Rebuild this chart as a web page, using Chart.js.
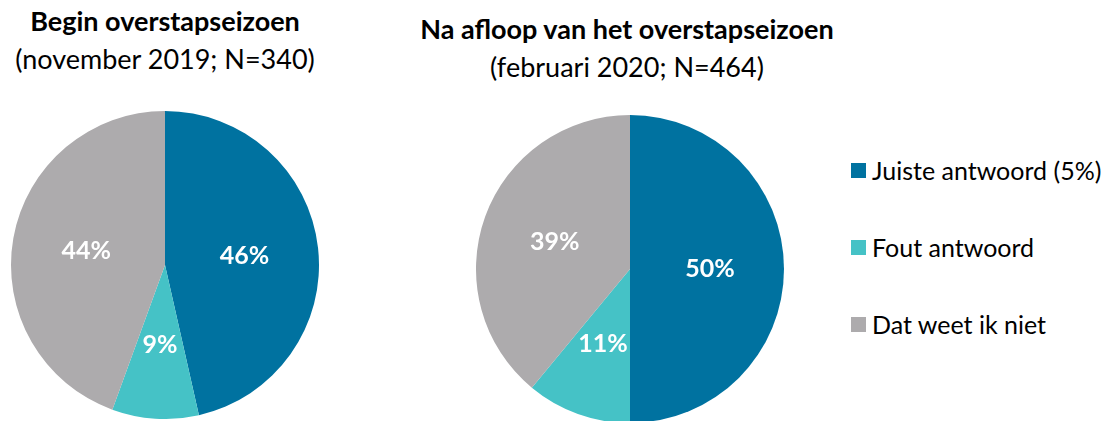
<!DOCTYPE html>
<html>
<head>
<meta charset="utf-8">
<script src="https://cdn.jsdelivr.net/npm/chart.js@4"></script>
<style>
  body { margin: 0; background: #fff; font-family: Lato, "Open Sans", sans-serif; color: #000; }
  #wrap { position: relative; width: 1108px; height: 421px; overflow: hidden; }
  .title { position: absolute; text-align: center; white-space: nowrap; font-size: 27px; line-height: 38px; }
  .title b { font-weight: 700; }
  .pie { position: absolute; }
  #legend { position: absolute; left: 851px; top: 150px; }
  .item { display: flex; align-items: center; height: 40px; margin-bottom: 37px; font-size: 25px; white-space: nowrap; }
  .box { width: 15px; height: 15px; margin-right: 6px; }
</style>
</head>
<body>
<div id="wrap">
  <div class="title" id="t1" style="left:-35px; top:2px; width:400px;"><b>Begin overstapseizoen</b><br>(november 2019; N=340)</div>
  <div class="title" id="t2" style="left:377px; top:10px; width:500px;"><b>Na afloop van het overstapseizoen</b><br>(februari 2020; N=464)</div>
  <div class="pie" style="left:11px; top:111px; width:308px; height:308px;"><canvas id="pie1"></canvas></div>
  <div class="pie" style="left:476px; top:115px; width:308px; height:308px;"><canvas id="pie2"></canvas></div>
  <div id="legend"></div>
</div>
<script>
const categories = ['Juiste antwoord (5%)', 'Fout antwoord', 'Dat weet ik niet'];
const colors = ['#0072A0', '#45C2C6', '#ADABAD'];
const begin = [46, 9, 44];
const afloop = [50, 11, 39];

// white percentage labels inside the slices
const sliceLabels = {
    id: 'sliceLabels',
    afterDatasetsDraw(chart) {
        const ctx = chart.ctx;
        const meta = chart.getDatasetMeta(0);
        const values = chart.data.datasets[0].data;
        ctx.save();
        ctx.fillStyle = '#fff';
        ctx.font = 'bold 25px Lato, sans-serif';
        ctx.textAlign = 'center';
        ctx.textBaseline = 'middle';
        meta.data.forEach((arc, i) => {
            const mid = (arc.startAngle + arc.endAngle) / 2;
            const r = arc.outerRadius * 0.52;
            ctx.fillText(values[i] + '%', arc.x + Math.cos(mid) * r, arc.y + Math.sin(mid) * r);
        });
        ctx.restore();
    }
};

function makePie(id, values) {
    return new Chart(document.getElementById(id), {
        type: 'pie',
        data: {
            labels: categories,
            datasets: [{
                data: values,
                backgroundColor: colors,
                borderWidth: 0
            }]
        },
        options: {
            responsive: true,
            maintainAspectRatio: false,
            animation: false,
            layout: { padding: 0 },
            plugins: {
                legend: { display: false },
                tooltip: { enabled: false }
            }
        },
        plugins: [sliceLabels]
    });
}

makePie('pie1', begin);
makePie('pie2', afloop);

const legend = document.getElementById('legend');
categories.forEach((c, i) => {
    const row = document.createElement('div');
    row.className = 'item';
    row.innerHTML = '<span class="box" style="background:' + colors[i] + '"></span>' + c;
    legend.appendChild(row);
});
</script>
</body>
</html>
